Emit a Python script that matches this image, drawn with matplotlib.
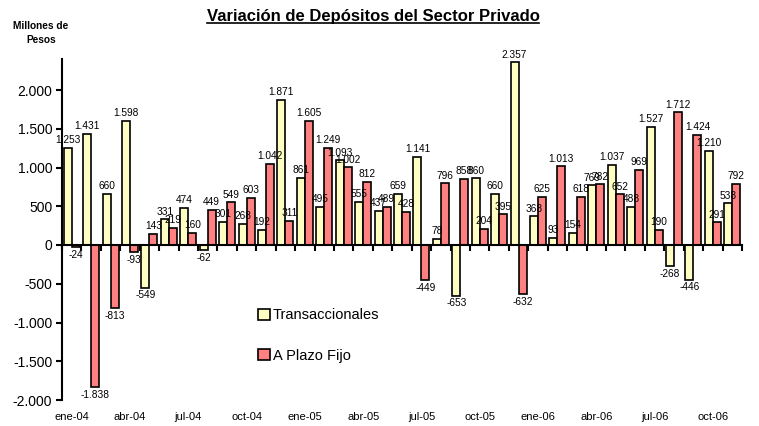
import matplotlib
matplotlib.use("Agg")
import matplotlib.pyplot as plt
import numpy as np
from matplotlib.lines import Line2D
from matplotlib.ticker import FuncFormatter

plt.rcParams['font.family'] = ['Liberation Sans', 'DejaVu Sans']

# Datos mensuales (millones de pesos), ene-04 a nov-06
meses = ['ene-04', 'feb-04', 'mar-04', 'abr-04', 'may-04', 'jun-04', 'jul-04', 'ago-04', 'sep-04',
         'oct-04', 'nov-04', 'dic-04', 'ene-05', 'feb-05', 'mar-05', 'abr-05', 'may-05', 'jun-05',
         'jul-05', 'ago-05', 'sep-05', 'oct-05', 'nov-05', 'dic-05', 'ene-06', 'feb-06', 'mar-06',
         'abr-06', 'may-06', 'jun-06', 'jul-06', 'ago-06', 'sep-06', 'oct-06', 'nov-06']
transaccionales = [1253, 1431, 660, 1598, -549, 331, 474, -62, 301,
                   268, 192, 1871, 861, 495, 1093, 555, 437, 659,
                   1141, 78, -653, 860, 660, 2357, 368, 93, 154,
                   769, 1037, 488, 1527, -268, -446, 1210, 538]
plazo_fijo = [-24, -1838, -813, -93, 143, 219, 160, 449, 549,
              603, 1042, 311, 1605, 1249, 1002, 812, 489, 428,
              -449, 796, 858, 204, 395, -632, 625, 1013, 618,
              782, 652, 969, 190, 1712, 1424, 291, 792]


def miles(v, pos=None):
    return f"{v:,.0f}".replace(',', '.')


fig = plt.figure(figsize=(7.59, 4.26), dpi=100)
ax = fig.add_axes([62 / 759, 1 - 400 / 426, 680 / 759, 341 / 426])

x = np.arange(len(meses))
w = 0.41
b1 = ax.bar(x - w / 2, transaccionales, w, color='#FFFFC4', edgecolor='black',
            linewidth=1.2, label='Transaccionales', zorder=3)
b2 = ax.bar(x + w / 2, plazo_fijo, w, color='#FF8080', edgecolor='black',
            linewidth=1.2, label='A Plazo Fijo', zorder=3)
ax.bar_label(b1, labels=[miles(v) for v in transaccionales], padding=2, fontsize=7.3, zorder=4)
ax.bar_label(b2, labels=[miles(v) for v in plazo_fijo], padding=2, fontsize=7.3, zorder=4)

ax.set_xlim(-0.5, len(meses) - 0.5)
ax.set_ylim(-2000, 2400)
ax.set_yticks(np.arange(-2000, 2001, 500))
ax.yaxis.set_major_formatter(FuncFormatter(miles))
ax.tick_params(axis='y', direction='out', length=4, width=1.5, labelsize=10, pad=3)

# eje x en cero con marcas entre meses; etiquetas abajo
ax.spines['right'].set_visible(False)
ax.spines['bottom'].set_visible(False)
ax.spines['top'].set_position(('data', 0))
ax.spines['top'].set_linewidth(1.5)
ax.spines['top'].set_zorder(5)
ax.spines['left'].set_linewidth(1.5)
ax.set_xticks(x[::3])
ax.set_xticklabels(meses[::3])
ax.set_xticks(np.arange(-0.5, len(meses)), minor=True)
ax.tick_params(axis='x', which='major', length=0, labelsize=8, pad=9)
ax.tick_params(axis='x', which='minor', top=True, bottom=False, direction='in', length=4, width=1.5)

ax.legend(loc='center left', bbox_to_anchor=(258 / 759, 1 - 335.5 / 426),
          bbox_transform=fig.transFigure, frameon=False, fontsize=10.5,
          handlelength=0.8, handleheight=0.75, handletextpad=0.2,
          labelspacing=1.8, borderpad=0, borderaxespad=0)

fig.text(40.8 / 759, 1 - 26 / 426, 'Millones de', ha='center', va='center',
         fontsize=7.3, fontweight='bold')
fig.text(40.8 / 759, 1 - 40 / 426, 'Pesos', ha='center', va='center',
         fontsize=7.3, fontweight='bold')

titulo = fig.text(373 / 759, 1 - 17 / 426, 'Variación de Depósitos del Sector Privado',
                  ha='center', va='center', fontsize=12, fontweight='bold')
fig.canvas.draw()
bb = titulo.get_window_extent()
yl = (bb.y0 + 1.5) / fig.bbox.height
fig.add_artist(Line2D([bb.x0 / fig.bbox.width, bb.x1 / fig.bbox.width], [yl, yl],
                      transform=fig.transFigure, color='black', linewidth=1.2))

fig.savefig('out.png', dpi=100)
